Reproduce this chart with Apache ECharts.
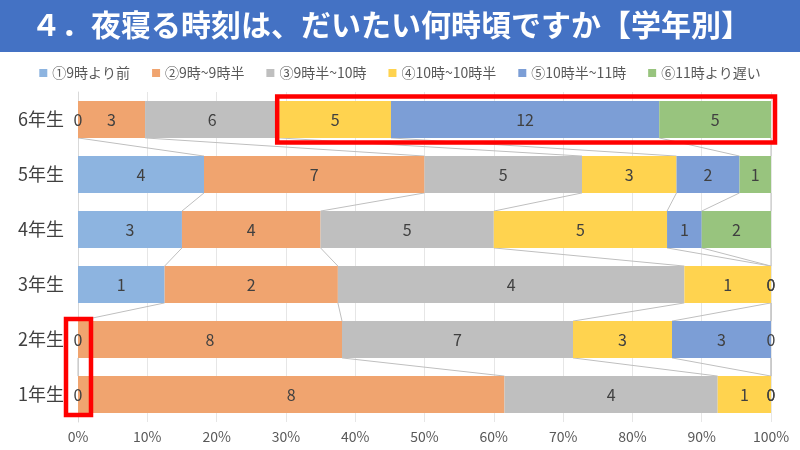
<!DOCTYPE html>
<html>
<head>
<meta charset="utf-8">
<script src="https://cdn.jsdelivr.net/npm/echarts@6/dist/echarts.min.js"></script>
<style>
  html, body { margin: 0; padding: 0; background: #fff; }
  #main { width: 800px; height: 450px; }
</style>
</head>
<body>
<div id="main"></div>
<script>
// 学年（下から上へ）
const categories = ['1年生', '2年生', '3年生', '4年生', '5年生', '6年生'];
const seriesNames = ['①9時より前', '②9時~9時半', '③9時半~10時', '④10時~10時半', '⑤10時半~11時', '⑥11時より遅い'];
// 人数
const s1 = [0, 0, 1, 3, 4, 0];
const s2 = [8, 8, 2, 4, 7, 3];
const s3 = [4, 7, 4, 5, 5, 6];
const s4 = [1, 3, 1, 5, 3, 5];
const s5 = [0, 3, 0, 1, 2, 12];
const s6 = [0, 0, 0, 2, 1, 5];
const xTicks = [0, 10, 20, 30, 40, 50, 60, 70, 80, 90, 100];

const counts = [s1, s2, s3, s4, s5, s6];
const colors = ['#8DB4E0', '#F0A46F', '#BFBFBF', '#FFD34F', '#7C9ED6', '#98C47E'];
const font = '"Noto Sans CJK JP", "Noto Sans", sans-serif';

const totals = categories.map((c, i) => counts.reduce((s, arr) => s + arr[i], 0));
const pct = counts.map(arr => arr.map((v, i) => v / totals[i] * 100));

// 区切り位置（累積％）
const cum = pct.map((arr, k) => arr.map((v, i) => {
  let s = 0;
  for (let j = 0; j <= k; j++) s += pct[j][i];
  return s;
}));

// 区分線のデータ
const lineData = [];
for (let i = 0; i < categories.length - 1; i++) {
  for (let k = 0; k < counts.length; k++) {
    lineData.push([cum[k][i + 1], i + 1, cum[k][i], i]);
  }
}

const barRatio = 0.67;

const chart = echarts.init(document.getElementById('main'));

const barSeries = seriesNames.map((name, k) => ({
  name: name,
  type: 'bar',
  stack: 'all',
  barCategoryGap: '33%',
  itemStyle: { color: colors[k] },
  label: {
    show: true,
    position: 'inside',
    color: '#404040',
    fontSize: 16,
    fontFamily: font,
    formatter: p => counts[k][p.dataIndex]
  },
  data: pct[k]
}));

const banner = {
  type: 'rect',
  z: -1,
  shape: { x: 0, y: 0, width: 800, height: 52 },
  style: { fill: '#4472C4' }
};

chart.setOption({
  animation: false,
  textStyle: { fontFamily: font },
  title: {
    text: '４．夜寝る時刻は、だいたい何時頃ですか【学年別】',
    left: 26,
    top: 5,
    textStyle: { color: '#fff', fontSize: 30, fontWeight: 'bold', fontFamily: font }
  },
  graphic: [banner],
  legend: {
    top: 61,
    left: 'center',
    itemWidth: 8,
    itemHeight: 8,
    itemGap: 22,
    icon: 'rect',
    textStyle: { fontSize: 14, color: '#595959', fontFamily: font },
    data: seriesNames
  },
  grid: { left: 78, right: 29, top: 92, bottom: 28 },
  xAxis: {
    type: 'value',
    min: 0,
    max: 100,
    interval: 10,
    axisLabel: { formatter: '{value}%', fontSize: 14, color: '#595959', margin: 8 },
    splitLine: { lineStyle: { color: '#E6E6E6' } },
    axisLine: { show: false },
    axisTick: { show: false }
  },
  yAxis: {
    type: 'category',
    data: categories,
    axisLabel: { fontSize: 18, color: '#404040', margin: 14 },
    axisLine: { lineStyle: { color: '#D9D9D9' } },
    axisTick: { show: false }
  },
  series: barSeries.concat([{
    type: 'custom',
    silent: true,
    z: 1,
    encode: { x: [0, 2], y: [1, 3] },
    renderItem: (params, api) => {
      const p1 = api.coord([api.value(0), api.value(1)]);
      const p2 = api.coord([api.value(2), api.value(3)]);
      const h = api.size([0, 1])[1] * barRatio / 2;
      return {
        type: 'line',
        shape: { x1: p1[0], y1: p1[1] + h, x2: p2[0], y2: p2[1] - h },
        style: { stroke: '#BFBFBF', lineWidth: 1 }
      };
    },
    data: lineData
  }])
});

// 赤枠の注釈
function drawHighlights() {
  const band = chart.convertToPixel({ gridIndex: 0 }, [0, 0])[1] - chart.convertToPixel({ gridIndex: 0 }, [0, 1])[1];
  const half = band * barRatio / 2;
  const a = chart.convertToPixel({ gridIndex: 0 }, [cum[2][5], 5]);
  const b = chart.convertToPixel({ gridIndex: 0 }, [100, 5]);
  const c = chart.convertToPixel({ gridIndex: 0 }, [0, 1]);
  const d = chart.convertToPixel({ gridIndex: 0 }, [0, 0]);
  chart.setOption({
    graphic: [banner, {
      type: 'rect',
      z: 100,
      shape: { x: a[0] - 2, y: a[1] - half - 4.5, width: b[0] - a[0] + 6, height: half * 2 + 9 },
      style: { fill: null, stroke: '#FF0000', lineWidth: 4.5 }
    }, {
      type: 'rect',
      z: 100,
      shape: { x: c[0] - 12, y: c[1] - half - 2, width: 25, height: d[1] - c[1] + half * 2 + 4 },
      style: { fill: null, stroke: '#FF0000', lineWidth: 4.5 }
    }]
  });
}
drawHighlights();
</script>
</body>
</html>
